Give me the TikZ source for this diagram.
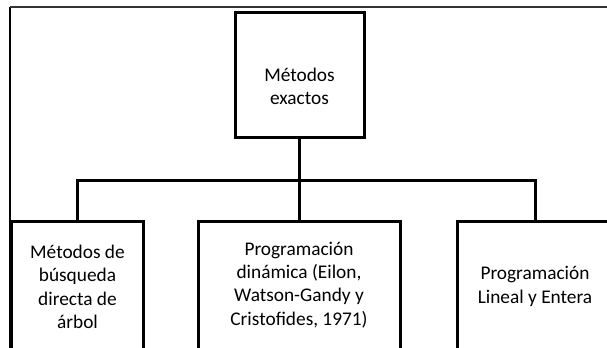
\documentclass[tikz,border=0pt]{standalone}
\usepackage{fontspec}
\setmainfont{Carlito}

\begin{document}
\begin{tikzpicture}[x=0.75pt,y=-0.75pt]


\tikzstyle{box}=[rectangle,draw,line width=2.25pt,inner sep=0pt]
\tikzstyle{txt}=[align=center,inner sep=0pt,font=\fontsize{14.5}{17.5}\selectfont]
\tikzstyle{link}=[line width=2.25pt]
  \useasboundingbox (0,0) rectangle (607,348);
  \clip (0,0) rectangle (607,348);
  % frame
  \draw[line width=1.5pt] (9.5,360) -- (9.5,7);
  \draw[line width=1pt,black!80] (9.5,7) -- (620,7);
  \node[box,minimum width=96.75pt,minimum height=94.1pt] (exactos) at (299.5,74.75) {};
  \foreach \name/\cx/\boxw in {busqueda/77.65/98.5pt, dinamica/299.5/151.3pt, lineal/535.35/116.5pt}
    \node[box,minimum width=\boxw,minimum height=118.9pt] (\name) at (\cx,300.75) {};
  \node[txt] (exactos-t) at (299.5,86.5) {Métodos\\exactos};
  \node[txt] (busqueda-t) at (77.5,286.7) {Métodos de\\búsqueda\\directa de\\árbol};
  \node[txt] (dinamica-t) at (299,285) {Programación\\dinámica (Eilon,\\Watson-Gandy y\\Cristofides, 1971)};
  \node[txt] (lineal-t) at (535,286.5) {Programación\\Lineal y Entera};
  \coordinate (bar) at (299.5,180.5);
  \draw[link] (exactos.south) -- (dinamica.north);
  \draw[link] (busqueda.north) |- (bar) -| (lineal.north);

        \end{tikzpicture}
\end{document}
